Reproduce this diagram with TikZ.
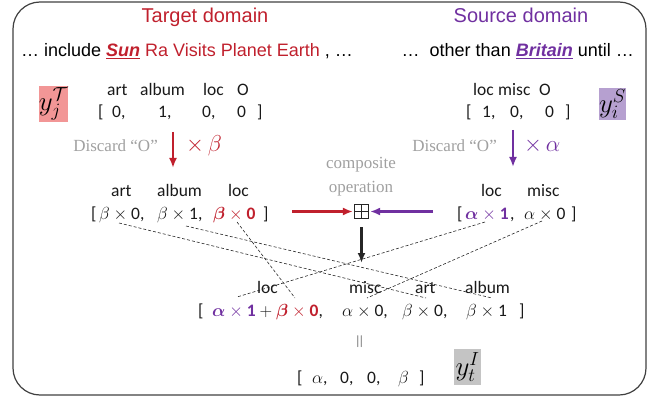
\RequirePackage{fix-cm}
\documentclass[tikz,border=0pt]{standalone}
\usepackage{fontspec}
\setmainfont{Liberation Sans}
\newfontfamily\calib{Carlito}
\newfontfamily\serifg{Liberation Serif}
\usepackage{bm}
\usetikzlibrary{arrows.meta}
\definecolor{tred}{RGB}{192,32,45}
\definecolor{spur}{RGB}{112,48,160}
\definecolor{pinkbg}{RGB}{242,150,150}
\definecolor{lavbg}{RGB}{182,160,208}
\definecolor{greybg}{RGB}{196,196,196}
\definecolor{greytxt}{RGB}{160,160,160}
\definecolor{framec}{RGB}{64,64,64}
\tikzset{
  lbl/.style={font=\calib\fontsize{17.5}{20}\selectfont, inner sep=0pt, anchor=base west, text=black!90},
  ttl/.style={font=\fontsize{20}{22}\selectfont, inner sep=0pt, anchor=base},
  sent/.style={font=\fontsize{18}{20}\selectfont, inner sep=0pt},
  disc/.style={font=\serifg\fontsize{17}{20}\selectfont, text=greytxt, inner sep=0pt},
  ybox/.style={inner sep=0pt, font=\fontsize{27}{29}\selectfont},
  dsh/.style={densely dashed, line width=0.6pt, black!85},
  arr/.style={line width=2.2pt, -{Latex[length=10pt,width=8pt]}},
}
\begin{document}
\begin{tikzpicture}[x=1pt,y=-1pt]
\useasboundingbox (0,0) rectangle (655,398);
\draw[framec, line width=1.2pt, rounded corners=27pt] (13,2) rectangle (646,395);

% titles
\node[ttl, text=tred] (tt) at (205,23) {Target domain};
\node[ttl, text=spur] (st) at (521,23) {Source domain};

% sentences
\node[sent, anchor=base west] (s1) at (21,57) {\dots\ include \textcolor{tred}{\underline{\textbf{\textit{Sun}}}} \textcolor{tred}{Ra Visits Planet Earth} , \dots};
\node[sent, anchor=base east] (s2) at (634,57) {\dots\ \ other than \textcolor{spur}{\underline{\textbf{\textit{Britain}}}} until \dots};

% label boxes
\node[ybox, fill=pinkbg, minimum width=29pt, minimum height=36pt] (yT) at (53.5,104) {$y_j^{\mathcal{T}}$};
\node[ybox, fill=lavbg, minimum width=27pt, minimum height=32pt] (yS) at (612.5,104) {$y_i^{S}$};
\node[ybox, fill=greybg, minimum width=27pt, minimum height=36pt] (yI) at (467.5,367) {$y_t^{I}$};

% top-left vector
\node[lbl] (tl1) at (107,96) {art};
\node[lbl] (tl2) at (140,96) {album};
\node[lbl] (tl3) at (203,96) {loc};
\node[lbl] (tl4) at (237,96) {O};
\node[lbl] (tlb) at (98,118) {[};
\node[lbl] (tn1) at (112,118) {0,};
\node[lbl] (tn2) at (158,118) {1,};
\node[lbl] (tn3) at (202,118) {0,};
\node[lbl] (tn4) at (237,118) {0};
\node[lbl] (tle) at (257,118) {]};

% top-right vector
\node[lbl] (tr1) at (473,96) {loc};
\node[lbl] (tr2) at (498,96) {misc};
\node[lbl] (tr3) at (539,96) {O};
\node[lbl] (trb) at (466,118) {[};
\node[lbl] (rn1) at (482,118) {1,};
\node[lbl] (rn2) at (510,118) {0,};
\node[lbl] (rn3) at (545,118) {0};
\node[lbl] (tre) at (565,118) {]};

% discard arrows
\coordinate (la1) at (173,132);
\coordinate (la2) at (173,168);
\draw[arr, tred] (la1) -- (la2);
\node[disc, anchor=base east] (d1) at (158,152) {Discard “O”};
\node[inner sep=0pt, anchor=base west, text=tred, font=\fontsize{23}{25}\selectfont] (mb) at (186,152) {$\times\,\beta$};
\coordinate (ra1) at (513,130);
\coordinate (ra2) at (513,167);
\draw[arr, spur] (ra1) -- (ra2);
\node[disc, anchor=base east] (d2) at (497,152) {Discard “O”};
\node[inner sep=0pt, anchor=base west, text=spur, font=\fontsize{23}{25}\selectfont] (ma) at (524,152) {$\times\,\alpha$};

% middle-left vector
\node[lbl] (ml1) at (111,196) {art};
\node[lbl] (ml2) at (157,196) {album};
\node[lbl] (ml3) at (228,196) {loc};
\node[lbl] (mlb) at (91,219) {[};
\node[lbl] (mn1) at (99,219) {$\beta\times\mbox{0}$,};
\node[lbl] (mn2) at (157,219) {$\beta\times\mbox{1}$,};
\node[lbl, text=tred] (mn3) at (213,219) {$\bm{\beta}\times\mbox{\textbf{0}}$};
\node[lbl] (mle) at (263,219) {]};

% middle-right vector
\node[lbl] (mr1) at (481,196) {loc};
\node[lbl] (mr2) at (527,196) {misc};
\node[lbl] (mrb) at (457,219) {[};
\node[lbl, text=spur] (mr3) at (465,219) {$\bm{\alpha}\times\mbox{\textbf{1}}$};
\node[lbl] (mrc) at (510,219) {,};
\node[lbl] (mr4) at (524,219) {$\alpha\times\mbox{0}$};
\node[lbl] (mre) at (571,219) {]};

% composite operation
\node[disc, anchor=base] (c1) at (361,168) {composite};
\node[disc, anchor=base] (c2) at (361,192) {operation};
\node[draw=black!85, line width=1.2pt, minimum size=14pt, inner sep=0pt,
  path picture={\draw[black!85, line width=1.2pt] (path picture bounding box.north) -- (path picture bounding box.south)
  (path picture bounding box.west) -- (path picture bounding box.east);}] (comp) at (361.5,211.5) {};
\coordinate (rs) at (292,211.5);
\coordinate (ps) at (433,211.5);
\coordinate (ds) at (361.5,227);
\coordinate (de) at (361.5,263);
\draw[arr, tred] (rs) -- ([xshift=-1pt]comp.west);
\draw[arr, spur] (ps) -- ([xshift=1pt]comp.east);
\draw[arr, black!85] (ds) -- (de);

% bottom vector
\node[lbl] (b1) at (257,293) {loc};
\node[lbl] (b2) at (349,293) {misc};
\node[lbl] (b3) at (415,293) {art};
\node[lbl] (b4) at (465,293) {album};
\node[lbl] (bb) at (198,316) {[};
\node[lbl] (bn1) at (212,316) {$\textcolor{spur}{\bm{\alpha}\times\mbox{\textbf{1}}}+\textcolor{tred}{\bm{\beta}\times\mbox{\textbf{0}}}$,};
\node[lbl] (bn2) at (342,316) {$\alpha\times\mbox{0}$,};
\node[lbl] (bn3) at (402,316) {$\beta\times\mbox{0}$,};
\node[lbl] (bn4) at (466,316) {$\beta\times\mbox{1}$};
\node[lbl] (be) at (519,316) {]};

% equals
\node[inner sep=0pt, rotate=90, font=\fontsize{19}{20}\selectfont, text=black!75] (eq) at (361,342) {$=$};

% final vector
\node[lbl] (fb) at (297,383) {[};
\node[lbl] (f1) at (312,383) {$\alpha$,};
\node[lbl] (f2) at (340,383) {0,};
\node[lbl] (f3) at (367,383) {0,};
\node[lbl] (f4) at (398,383) {$\beta$};
\node[lbl] (fe) at (419,383) {]};

% dashed mapping lines
\coordinate (dA1) at (119,223);  \coordinate (dA2) at (426,298);
\coordinate (dB1) at (186,226);  \coordinate (dB2) at (492,298);
\coordinate (dC1) at (237,222);  \coordinate (dC2) at (295,298);
\coordinate (dD1) at (485,222);  \coordinate (dD2) at (237,297);
\coordinate (dE1) at (542,221);  \coordinate (dE2) at (367,298);
\draw[dsh] (dA1) -- (dA2);
\draw[dsh] (dB1) -- (dB2);
\draw[dsh] (dC1) -- (dC2);
\draw[dsh] (dD1) -- (dD2);
\draw[dsh] (dE1) -- (dE2);
\end{tikzpicture}
\end{document}
